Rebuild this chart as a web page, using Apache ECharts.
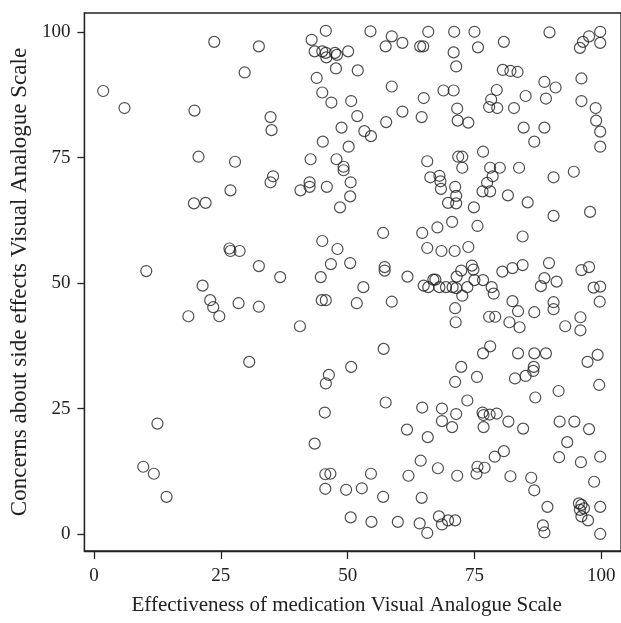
<!DOCTYPE html>
<html>
<head>
<meta charset="utf-8">
<script src="https://cdn.jsdelivr.net/npm/echarts@6/dist/echarts.min.js"></script>
<style>
  html, body { margin: 0; padding: 0; background: #fff; }
  #chart { width: 621px; height: 623px; }
</style>
</head>
<body>
<div id="chart"></div>
<script>
// tick labels on both axes
const tickValues = [0, 25, 50, 75, 100]

// Effectiveness of medication VAS (x), column by column
const effectiveness = [
  23.7, 29.7, 1.8, 6.0, 19.8, 20.6, 27.8,
  32.5, 45.7, 42.9, 43.5, 45.0, 45.7, 45.8, 47.5, 47.9, 50.1, 54.5, 58.7, 57.5, 60.8, 64.3, 64.9, 65.9,
  47.7, 52.0, 43.9, 58.7, 45.0, 46.8, 50.7, 65.0, 51.9, 60.8, 57.6, 64.6, 34.8, 35.0, 48.8, 53.3, 54.6,
  45.1, 50.2, 42.7, 47.8, 49.2, 49.2, 65.7, 66.3, 35.3, 34.8, 42.5, 40.7, 42.5, 45.9, 50.6, 26.9,
  71.0, 75.0, 89.8, 99.8, 99.8, 97.6, 96.4, 95.8, 75.7, 80.8, 70.9, 71.4, 80.6, 82.1, 83.5, 96.1,
  88.8, 91.0, 68.9, 70.9, 79.4, 78.3, 77.9, 79.5, 82.8, 85.1, 89.1, 96.1, 98.9, 71.6, 71.7, 73.8,
  99.0, 99.8, 84.7, 88.8, 86.8, 99.8, 76.7, 71.8, 72.6, 72.6, 78.1, 80.0, 83.8, 78.6, 77.5, 90.6,
  94.6, 68.1, 68.3, 68.4, 71.2, 76.6, 78.1, 81.6,
  71.4, 69.8, 71.4, 85.5, 74.9, 90.6, 97.8, 67.7, 70.6, 75.6, 84.5, 68.5, 71.1, 73.8, 74.5, 74.8,
  72.4, 71.5, 67.3, 68.1, 69.4, 70.7, 71.4, 73.6, 72.6, 75.0, 76.7, 78.4, 78.8, 80.5, 82.5, 84.5,
  89.7, 88.8, 88.1, 91.2, 96.1, 97.6, 98.5, 99.8, 99.7, 82.5, 83.6, 86.8, 90.6, 90.6, 71.2, 71.3,
  77.9, 79.1, 81.9, 83.9, 92.9, 95.9, 95.9, 78.1, 76.7, 83.6, 86.8, 89.1, 97.3, 99.3, 72.4, 86.7,
  86.6, 85.1, 83.0, 71.2, 75.5, 99.6, 91.6, 87.0, 73.6, 68.6, 71.4, 68.6, 70.6, 76.6, 76.8, 78.0,
  79.4, 76.8, 81.7, 84.6, 91.8, 94.7, 97.6, 93.3, 91.7, 96.0, 99.8, 98.6, 80.8, 79.0, 75.6, 77.0,
  75.4, 71.6, 67.8, 82.1, 86.2, 86.8, 89.4, 95.6, 96.1, 95.8, 96.6, 96.1, 97.4, 99.8, 99.8, 88.5,
  88.8, 68.0, 68.6, 69.8, 71.2,
  50.5, 48.5, 57.0, 64.7, 65.7, 45.0, 48.0, 46.7, 50.5, 57.3, 57.3, 32.5, 36.7, 44.7, 53.1, 61.8,
  65.0, 65.9, 66.9, 44.9, 45.7, 51.8, 58.7, 32.5, 40.6, 57.1, 50.7,
  19.7, 22.0, 26.7, 26.9, 28.7, 10.3, 21.4, 22.9, 23.5, 24.7, 18.6, 28.5, 30.6,
  12.5, 9.7, 11.8, 14.3,
  46.3, 45.7, 57.5, 64.7, 45.5, 61.7, 65.8, 43.5, 64.4, 45.6, 46.6, 54.6, 62.0, 45.6, 49.7, 52.8,
  57.0, 64.6, 50.6, 54.7, 59.9, 64.2, 65.7
]

// Concerns about side effects VAS (y), same order as above
const concerns = [
  98.1, 92.0, 88.3, 84.9, 84.4, 75.2, 74.2,
  97.2, 100.3, 98.5, 96.2, 96.2, 95.9, 95.0, 95.9, 95.5, 96.2, 100.2, 99.2, 97.2, 97.9, 97.2, 97.2, 100.1,
  92.8, 92.4, 90.9, 89.2, 88.0, 86.0, 86.3, 86.9, 83.3, 84.2, 82.1, 83.1, 83.1, 80.5, 81.0, 80.3, 79.3,
  78.2, 77.2, 74.7, 74.7, 73.2, 72.5, 74.3, 71.1, 71.3, 70.1, 70.1, 68.5, 69.2, 69.2, 70.1, 68.5,
  100.1, 100.1, 100.0, 100.1, 97.9, 99.2, 98.1, 96.9, 97.0, 98.1, 96.0, 93.2, 92.5, 92.3, 92.1, 90.8,
  90.1, 89.0, 88.4, 88.4, 88.5, 86.6, 85.1, 84.9, 84.9, 87.3, 86.8, 86.3, 84.9, 84.8, 82.4, 82.0,
  82.4, 80.2, 81.0, 81.0, 78.2, 77.2, 76.2, 75.2, 75.2, 73.0, 73.0, 73.0, 73.0, 71.3, 70.0, 71.1,
  72.2, 71.4, 70.3, 68.8, 69.2, 68.3, 68.3, 67.5,
  67.4, 66.0, 65.9, 66.1, 65.1, 63.4, 64.2, 61.1, 62.2, 61.4, 59.3, 56.4, 56.4, 57.2, 53.5, 52.7,
  52.5, 51.3, 50.7, 49.2, 49.2, 49.2, 49.0, 49.2, 47.5, 50.6, 50.6, 49.2, 47.9, 52.3, 53.0, 53.6,
  54.0, 51.0, 49.4, 50.3, 52.6, 53.2, 49.1, 49.3, 46.3, 46.4, 44.4, 44.2, 46.2, 44.8, 45.0, 42.2,
  43.3, 43.3, 42.2, 41.2, 41.4, 43.2, 40.6, 37.4, 36.0, 36.0, 36.0, 36.0, 34.3, 35.7, 33.3, 33.3,
  32.5, 31.5, 31.0, 30.3, 31.3, 29.7, 28.5, 27.2, 26.6, 25.0, 23.9, 22.5, 21.3, 24.2, 23.7, 23.8,
  24.0, 21.3, 22.4, 21.0, 22.4, 22.4, 20.9, 18.3, 15.3, 14.3, 15.4, 10.4, 16.5, 15.4, 13.4, 13.2,
  12.0, 11.6, 13.1, 11.5, 11.2, 8.7, 5.4, 6.1, 5.8, 4.8, 5.1, 3.5, 2.7, 5.4, 0.0, 1.7,
  0.3, 3.5, 1.9, 2.7, 2.7,
  67.3, 65.1, 60.0, 60.0, 57.0, 58.4, 56.8, 53.8, 54.0, 53.2, 52.5, 53.4, 51.2, 51.2, 49.2, 51.3,
  49.5, 49.2, 50.7, 46.6, 46.6, 46.0, 46.3, 45.3, 41.4, 36.9, 33.3,
  65.9, 66.0, 56.9, 56.4, 56.4, 52.4, 49.5, 46.6, 45.2, 43.4, 43.4, 46.0, 34.3,
  22.0, 13.4, 12.0, 7.4,
  31.7, 30.0, 26.2, 25.2, 24.2, 20.8, 19.3, 18.0, 14.6, 11.9, 12.0, 12.0, 11.6, 9.0, 8.8, 9.1,
  7.4, 7.2, 3.3, 2.4, 2.4, 2.1, 0.2
]

const xTitle = "Effectiveness of medication Visual Analogue Scale"
const yTitle = "Concerns about side effects Visual Analogue Scale"

const serif = "'Liberation Serif', 'DejaVu Serif', serif"
const ink = "#222222"

// 散点数据
let points = effectiveness.map((x, i) => [x, concerns[i]])

let chartEle = document.getElementById("chart")
let scatterChart = echarts.init(chartEle, null, { renderer: "canvas" })

let option = {
  backgroundColor: "#ffffff",
  animation: false,
  grid: {
    left: 82,
    top: 13,
    width: 541,
    height: 538,
    show: true,
    borderColor: ink,
    borderWidth: 1.3,
    backgroundColor: "transparent"
  },
  xAxis: {
    type: "value",
    min: -1.9,
    max: 103.9,
    name: xTitle,
    nameLocation: "middle",
    nameGap: 44,
    nameTextStyle: { fontFamily: serif, fontSize: 21, color: ink, padding: [0, 12, 0, 0] },
    axisLine: { show: true, onZero: false, lineStyle: { color: ink, width: 1.3 } },
    axisTick: { show: true, length: 8, lineStyle: { color: ink, width: 1.3 }, customValues: tickValues },
    axisLabel: { fontFamily: serif, fontSize: 19, color: ink, margin: 16, customValues: tickValues },
    splitLine: { show: false }
  },
  yAxis: {
    type: "value",
    min: -3.4,
    max: 103.85,
    name: yTitle,
    nameLocation: "middle",
    nameGap: 52,
    nameTextStyle: { fontFamily: serif, fontSize: 23, color: ink },
    axisLine: { show: true, onZero: false, lineStyle: { color: ink, width: 1.3 } },
    axisTick: { show: true, length: 7, lineStyle: { color: ink, width: 1.3 }, customValues: tickValues },
    axisLabel: { fontFamily: serif, fontSize: 19, color: ink, margin: 14, customValues: tickValues },
    splitLine: { show: false }
  },
  series: [
    {
      type: "scatter",
      data: points,
      symbol: "circle",
      symbolSize: 11,
      itemStyle: {
        color: "transparent",
        borderColor: ink,
        borderWidth: 1.2
      },
      emphasis: { disabled: true }
    }
  ]
}

scatterChart.setOption(option)
</script>
</body>
</html>
